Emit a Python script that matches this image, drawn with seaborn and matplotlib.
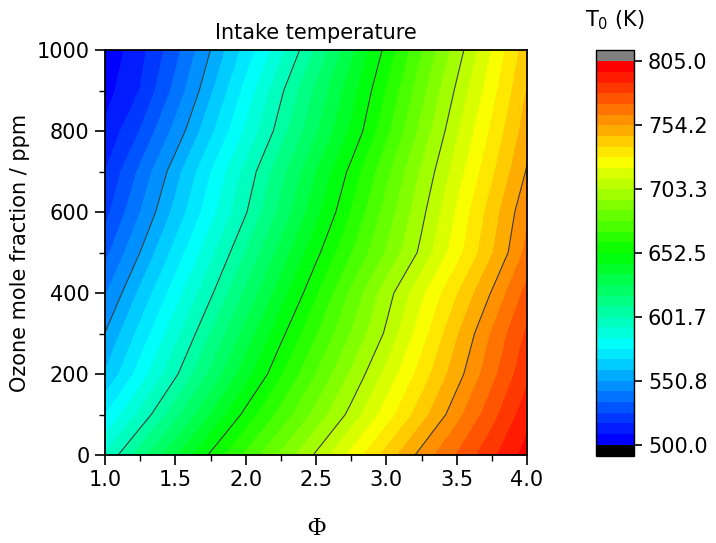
import numpy as np
import pandas as pd
import matplotlib
matplotlib.use("Agg")
import matplotlib.pyplot as plt
from matplotlib.colors import LinearSegmentedColormap, ListedColormap
from matplotlib.ticker import MultipleLocator, FormatStrFormatter
import seaborn as sns

# Equivalence ratio grid and ozone mole fraction grid
phi = [1.0, 1.25, 1.5, 1.75, 2.0, 2.25, 2.5, 2.75, 3.0, 3.25, 3.5, 3.75, 4.0]
ozone_ppm = [0, 100, 200, 300, 400, 500, 600, 700, 800, 900, 1000]

# Intake temperature T0 (K), one row per ozone level
T_0ppm = [594.0, 614.4, 634.2, 653.9, 670.8, 687.7, 704.7, 722.5, 740.3, 757.3, 771.5, 785.8, 800.0]
T_100ppm = [576.0, 595.3, 615.4, 635.6, 655.2, 672.1, 689.1, 706.2, 724.1, 742.0, 759.6, 776.3, 793.0]
T_200ppm = [560.0, 579.9, 600.1, 620.2, 640.4, 659.8, 677.9, 696.1, 714.2, 732.4, 750.6, 768.3, 786.0]
T_300ppm = [551.0, 570.5, 590.3, 610.1, 630.1, 650.1, 668.5, 686.6, 704.9, 724.8, 744.6, 763.4, 781.0]
T_400ppm = [541.4, 561.0, 580.6, 600.1, 620.0, 639.8, 659.6, 679.5, 699.3, 718.1, 736.5, 754.9, 774.0]
T_500ppm = [531.2, 551.0, 570.8, 590.6, 610.4, 630.3, 650.1, 668.7, 687.1, 705.6, 725.2, 744.8, 765.0]
T_600ppm = [522.6, 542.2, 561.8, 581.3, 600.9, 621.0, 641.2, 661.2, 681.1, 700.9, 721.1, 741.3, 761.0]
T_700ppm = [517.0, 535.6, 555.6, 575.7, 595.7, 615.5, 635.2, 655.0, 675.4, 695.9, 715.8, 735.4, 755.0]
T_800ppm = [510.0, 525.8, 545.1, 565.5, 585.8, 606.0, 625.7, 645.4, 666.8, 689.0, 710.4, 730.2, 750.0]
T_900ppm = [505.0, 517.2, 536.4, 557.6, 578.8, 600.0, 620.2, 640.4, 661.3, 683.2, 704.9, 725.4, 746.0]
T_1000ppm = [502.0, 514.0, 530.9, 550.9, 570.7, 590.6, 611.3, 633.2, 655.1, 677.0, 698.9, 720.5, 742.0]

rows = [T_0ppm, T_100ppm, T_200ppm, T_300ppm, T_400ppm, T_500ppm,
        T_600ppm, T_700ppm, T_800ppm, T_900ppm, T_1000ppm]

# Long-form table, then pivot to a grid (ozone rows x phi columns)
df = pd.DataFrame(
    [(p, o, t) for o, row in zip(ozone_ppm, rows) for p, t in zip(phi, row)],
    columns=["phi", "ozone", "T0"],
)
grid = df.pivot(index="ozone", columns="phi", values="T0")

# Colour scale: 36 bands from 500 K to 805 K
t_min, t_max, n_bands = 500.0, 805.0, 36
levels = np.linspace(t_min, t_max, n_bands + 1)
line_levels = levels[6:-1:6]

rainbow = LinearSegmentedColormap.from_list(
    "rainbow5", ["#0000ff", "#00ffff", "#00ff00", "#ffff00", "#ff0000"])
cmap = ListedColormap(rainbow(np.linspace(0, 1, n_bands)))
cmap.set_under("black")
cmap.set_over("#808080")

sns.set_theme(style="ticks")
plt.rcParams["font.family"] = ["DejaVu Sans"]
for key in ("text.color", "axes.labelcolor", "xtick.color", "ytick.color",
            "axes.edgecolor"):
    plt.rcParams[key] = "black"

W, H = 716, 543
fig = plt.figure(figsize=(W / 100, H / 100), dpi=100)
ax = fig.add_axes([105 / W, 1 - 455 / H, 422 / W, 405 / H])
cax = fig.add_axes([596 / W, 1 - 456 / H, 38 / W, 406 / H])

X = grid.columns.values
Y = grid.index.values
Z = grid.values

cf = ax.contourf(X, Y, Z, levels=levels, cmap=cmap, extend="both")
ax.contour(X, Y, Z, levels=line_levels, colors="#3c3c3c", linewidths=0.8)

ax.set_xlim(1.0, 4.0)
ax.set_ylim(0, 1000)
ax.xaxis.set_major_locator(MultipleLocator(0.5))
ax.xaxis.set_minor_locator(MultipleLocator(0.25))
ax.yaxis.set_major_locator(MultipleLocator(200))
ax.yaxis.set_minor_locator(MultipleLocator(100))
ax.xaxis.set_major_formatter(FormatStrFormatter("%.1f"))
ax.tick_params(which="major", direction="out", length=7, width=1.2,
               labelsize=15, colors="black", pad=4)
ax.tick_params(which="minor", direction="out", length=4, width=1.0, colors="black")
ax.tick_params(top=False, right=False, which="both")
for s in ax.spines.values():
    s.set_linewidth(1.3)
    s.set_color("black")

ax.set_title("Intake temperature", fontsize=15, pad=8, color="black")
ax.set_ylabel("Ozone mole fraction / ppm", fontsize=15, labelpad=5)
ax.set_xlabel("Φ", fontsize=18, family=["Liberation Serif"], labelpad=20)

cb = fig.colorbar(cf, cax=cax, extendrect=True, extendfrac=0.03,
                  ticks=levels[::6])
cb.ax.yaxis.set_major_formatter(FormatStrFormatter("%.1f"))
cb.ax.tick_params(direction="out", length=6, width=1.2, labelsize=15, pad=4,
                  colors="black")
cb.ax.minorticks_off()
cb.outline.set_linewidth(1.0)
cb.outline.set_edgecolor("black")
fig.text(615 / W, 1 - 20 / H, "T$_{\\mathregular{0}}$ (K)", fontsize=15,
         ha="center", va="center", color="black")

fig.savefig("out.png", dpi=100)
